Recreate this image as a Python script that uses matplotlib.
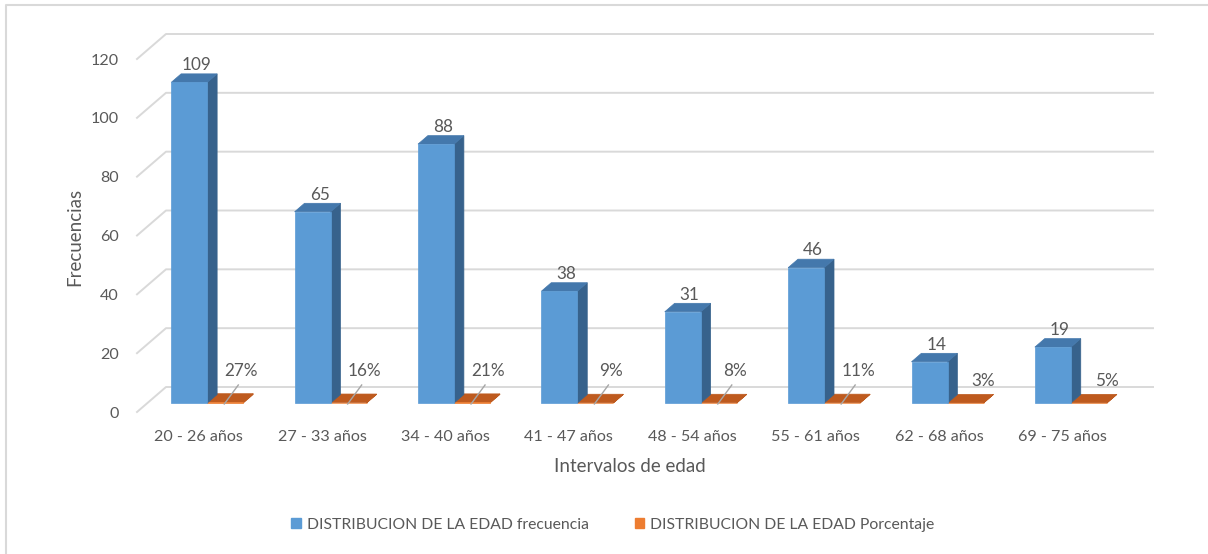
import matplotlib
matplotlib.use("Agg")
import matplotlib.pyplot as plt
from matplotlib.patches import Polygon, Patch
from matplotlib.lines import Line2D
from matplotlib.transforms import IdentityTransform
import numpy as np

# ---------------- data ----------------
categories = ["20 - 26 años", "27 - 33 años", "34 - 40 años", "41 - 47 años",
              "48 - 54 años", "55 - 61 años", "62 - 68 años", "69 - 75 años"]
frecuencia = [109, 65, 88, 38, 31, 46, 14, 19]
porcentaje = [0.27, 0.16, 0.21, 0.09, 0.08, 0.11, 0.03, 0.05]
y_ticks = [0, 20, 40, 60, 80, 100, 120]
series_names = ["DISTRIBUCION DE LA EDAD frecuencia", "DISTRIBUCION DE LA EDAD Porcentaje"]
x_title = "Intervalos de edad"
y_title = "Frecuencias"

# ---------------- style ----------------
plt.rcParams['font.family'] = ['Lato', 'DejaVu Sans']
TXT = "#595959"
GRID = "#D9D9D9"
BLUE_FRONT, BLUE_TOP, BLUE_SIDE = "#5B9BD5", "#4478AC", "#37628C"
ORG_FRONT, ORG_TOP = "#ED7D31", "#BE5A1E"
W, H = 1208, 554
DX, DY = 29, 25          # depth offset (pixels) of the back wall
F1, F2 = 0.36, 0.70      # bar depth range (fraction of full depth)
BW = 0.292               # bar width (category units)
GAP_SHIFT = 0.015        # bars sit slightly left of category centre
pct_leader = [True, True, True, True, True, True, False, False]

fig = plt.figure(figsize=(W / 100, H / 100), dpi=100)
fig.patch.set_facecolor("white")
L, R, B0, T0 = 137, 1124, 412, 59
ax = fig.add_axes([L / W, (H - B0) / H, (R - L) / W, (B0 - T0) / H])
ax.set_xlim(0, len(categories))
ax.set_ylim(0, 120)
ax.patch.set_alpha(0)
for s in ax.spines.values():
    s.set_visible(False)
ax.set_yticks(y_ticks)
ax.set_yticklabels([str(t) for t in y_ticks])
ax.set_xticks(np.arange(len(categories)) + 0.5)
ax.set_xticklabels(categories)
ax.tick_params(axis='both', length=0, labelcolor=TXT, labelsize=11.6)
ax.tick_params(axis='y', pad=13)
ax.tick_params(axis='x', pad=13)

fig.canvas.draw()
ident = IdentityTransform()


def P(x, y, f):
    p = ax.transData.transform((x, y))
    return (p[0] + DX * f, p[1] + DY * f)


# gridlines on back wall with side-wall diagonals
n = len(categories)
for t in y_ticks:
    a = P(0, t, 0)
    b = P(0, t, 1)
    c = P(n, t, 1)
    fig.add_artist(Line2D([a[0], b[0], c[0]], [a[1], b[1], c[1]], color=GRID,
                          lw=1.4, transform=ident, zorder=1))


def bar3d(x0, x1, h, front, top, side, z):
    pts_front = [P(x0, 0, F1), P(x1, 0, F1), P(x1, h, F1), P(x0, h, F1)]
    pts_top = [P(x0, h, F1), P(x1, h, F1), P(x1, h, F2), P(x0, h, F2)]
    pts_side = [P(x1, 0, F1), P(x1, 0, F2), P(x1, h, F2), P(x1, h, F1)]
    for pts, col in ((pts_side, side), (pts_top, top), (pts_front, front)):
        fig.add_artist(Polygon(pts, closed=True, facecolor=col, edgecolor=col,
                               lw=0.5, transform=ident, zorder=z))


for i, (fv, pv) in enumerate(zip(frecuencia, porcentaje)):
    c = i + 0.5 - GAP_SHIFT
    # orange (percentage) bar - practically flat on the frequency scale
    bar3d(c, c + BW, pv, ORG_FRONT, ORG_TOP, ORG_TOP, 3)
    # blue (frequency) bar
    bar3d(c - BW, c, fv, BLUE_FRONT, BLUE_TOP, BLUE_SIDE, 4)
    # frequency label
    px, py = P(c - BW / 2, fv, (F1 + F2) / 2)
    fig.text((px + 2) / W, (py + 8) / H, f"{fv}", ha='center', va='baseline',
             color=TXT, fontsize=12.3)
    # percentage label
    ox, oy = P(c + BW / 2, 0, F1)
    if pct_leader[i]:
        fig.add_artist(Line2D([ox - 1, ox + 13], [oy - 1, oy + 18], color="#A6A6A6",
                              lw=1.0, transform=ident, zorder=5))
        lx, ly = ox + 16, oy + 32
    else:
        lx, ly = ox + 18, oy + 22
    fig.text(lx / W, ly / H, f"{round(pv * 100)}%", ha='center', va='center',
             color=TXT, fontsize=12.3, zorder=6)

# axis titles
fig.text(630 / W, 1 - 467 / H, x_title, ha='center', va='center', color=TXT, fontsize=13.5)
fig.text(75 / W, 1 - 237 / H, y_title, ha='center', va='center', color=TXT,
         fontsize=13.5, rotation=90)

# legend
handles = [Patch(facecolor=BLUE_FRONT, edgecolor=BLUE_FRONT),
           Patch(facecolor=ORG_FRONT, edgecolor=ORG_FRONT)]
fig.legend(handles, series_names, loc='center', bbox_to_anchor=(613 / W, 1 - 525 / H),
           ncol=2, frameon=False, fontsize=11.3, handlelength=0.6, handleheight=0.6,
           handletextpad=0.4, columnspacing=2.9, labelcolor=TXT)

# outer border
fig.add_artist(Line2D([6, 6, W], [0, H - 5, H - 5], color=GRID, lw=1.5,
                      transform=ident, zorder=0))

fig.savefig("out.png", dpi=100)
